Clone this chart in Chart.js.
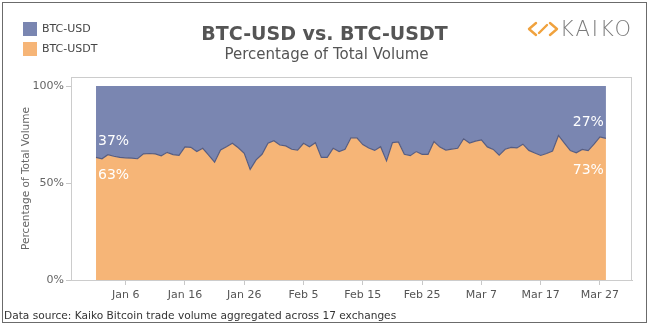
<!DOCTYPE html>
<html>
<head>
<meta charset="utf-8">
<title>BTC-USD vs. BTC-USDT</title>
<script src="https://cdn.jsdelivr.net/npm/chart.js@4.4.0/dist/chart.umd.min.js"></script>
<style>
    html, body { margin: 0; padding: 0; background: #fff; }
    #wrap { position: relative; width: 649px; height: 325px; overflow: hidden; font-family: "DejaVu Sans", sans-serif; }
    #border { position: absolute; left: 2px; top: 2px; width: 643px; height: 319px; border: 1px solid #6b6b6b; }
    #chart { position: absolute; left: 0; top: 0; }
    .legend-item { position: absolute; left: 23px; height: 14px; font-size: 11px; line-height: 14px; color: #444; }
    .legend-item span { display: inline-block; width: 14px; height: 14px; vertical-align: top; margin-right: 5px; }
    #title { position: absolute; left: 0; width: 649px; top: 24px; text-align: center; font-size: 19px; line-height: 19px; font-weight: bold; color: #555; }
    #subtitle { position: absolute; left: 0; width: 653px; top: 47px; text-align: center; font-size: 15px; line-height: 15px; color: #555; }
    #logo { position: absolute; left: 527px; top: 19px; height: 20px; }
    #logo svg { position: absolute; left: 0; top: 2px; }
    #logo b { position: absolute; left: 33px; top: 0; font-size: 21px; line-height: 21px; font-weight: 200; letter-spacing: 2px; color: #7a7a7a; }
    #source { position: absolute; left: 4px; top: 309px; font-size: 10.6px; line-height: 12px; color: #333; white-space: nowrap; }
</style>
</head>
<body>
<div id="wrap">
    <div id="border"></div>
    <canvas id="chart" width="649" height="325"></canvas>
    <div id="legend"></div>
    <div id="title">BTC-USD vs. BTC-USDT</div>
    <div id="subtitle">Percentage of Total Volume</div>
    <div id="logo">
        <svg width="32" height="16" viewBox="0 0 32 16">
            <g fill="none" stroke="#f0a23e" stroke-width="2.4" stroke-linecap="round" stroke-linejoin="round">
                <path d="M9 2 L2 8 L9 14"/>
                <path d="M23 2 L30 8 L23 14"/>
                <path d="M12 12 L20 4"/>
            </g>
        </svg>
        <b>KAIKO</b>
    </div>
    <div id="source">Data source: Kaiko Bitcoin trade volume aggregated across 17 exchanges</div>
</div>
<script>
// daily share of volume, Jan 1 - Mar 28 (one value per day)
const usdtShare = [
    63.2, 62.5, 64.6, 63.8, 63.2, 63.0, 62.8, 62.5, 65.0, 65.2,
    65.0, 64.0, 65.8, 64.6, 64.3, 68.6, 68.4, 66.2, 67.9, 64.4,
    60.7, 67.0, 68.7, 70.5, 68.2, 65.3, 57.0, 61.9, 64.8, 70.5,
    71.8, 69.6, 69.1, 67.4, 67.0, 70.5, 68.7, 70.8, 63.2, 63.2,
    67.9, 66.2, 67.4, 73.3, 73.3, 69.8, 68.0, 66.8, 68.7, 61.4,
    70.8, 71.2, 64.8, 64.1, 66.2, 64.8, 64.8, 71.4, 68.5, 67.0,
    67.5, 67.9, 72.8, 70.6, 71.6, 72.2, 68.6, 67.3, 64.4, 67.4,
    68.4, 68.1, 70.0, 66.8, 65.5, 64.2, 65.2, 66.5, 74.5, 70.5,
    66.7, 65.6, 67.3, 66.7, 70.0, 73.8, 73.0
];
const usdShare = [
    36.8, 37.5, 35.4, 36.2, 36.8, 37.0, 37.2, 37.5, 35.0, 34.8,
    35.0, 36.0, 34.2, 35.4, 35.7, 31.4, 31.6, 33.8, 32.1, 35.6,
    39.3, 33.0, 31.3, 29.5, 31.8, 34.7, 43.0, 38.1, 35.2, 29.5,
    28.2, 30.4, 30.9, 32.6, 33.0, 29.5, 31.3, 29.2, 36.8, 36.8,
    32.1, 33.8, 32.6, 26.7, 26.7, 30.2, 32.0, 33.2, 31.3, 38.6,
    29.2, 28.8, 35.2, 35.9, 33.8, 35.2, 35.2, 28.6, 31.5, 33.0,
    32.5, 32.1, 27.2, 29.4, 28.4, 27.8, 31.4, 32.7, 35.6, 32.6,
    31.6, 31.9, 30.0, 33.2, 34.5, 35.8, 34.8, 33.5, 25.5, 29.5,
    33.3, 34.4, 32.7, 33.3, 30.0, 26.2, 27.0
];
const tickDays = [5, 15, 25, 35, 45, 55, 65, 75, 85];
const tickLabels = ['Jan 6', 'Jan 16', 'Jan 26', 'Feb 5', 'Feb 15', 'Feb 25', 'Mar 7', 'Mar 17', 'Mar 27'];
const yTicks = [0, 50, 100];
const seriesNames = ['BTC-USD', 'BTC-USDT'];
const seriesColors = ['#7a86b1', '#f6b577'];

// legend (top left, stacked vertically)
const legend = document.getElementById('legend');
seriesNames.forEach((name, i) => {
    const item = document.createElement('div');
    item.className = 'legend-item';
    item.style.top = (22 + i * 20) + 'px';
    item.innerHTML = '<span style="background:' + seriesColors[i] + '"></span>' + name;
    legend.appendChild(item);
});

const font = 'DejaVu Sans';

// light frame round the plot area
const plotFrame = {
    id: 'plotFrame',
    beforeDatasetsDraw(chart) {
        const { ctx, chartArea: a } = chart;
        ctx.save();
        ctx.strokeStyle = '#cccccc';
        ctx.lineWidth = 1;
        ctx.strokeRect(a.left + 0.5, a.top + 0.5, a.right - a.left - 1, a.bottom - a.top);
        ctx.restore();
    }
};

// percentage labels at both ends of the series
const endLabels = {
    id: 'endLabels',
    afterDatasetsDraw(chart) {
        const { ctx, scales: { x, y } } = chart;
        const last = usdtShare.length - 1;
        const x0 = x.getPixelForValue(0);
        const x1 = x.getPixelForValue(last);
        const y0 = y.getPixelForValue(usdtShare[0]);
        const y1 = y.getPixelForValue(usdtShare[last]);
        ctx.save();
        ctx.fillStyle = '#ffffff';
        ctx.font = '14px "' + font + '"';
        ctx.textBaseline = 'middle';
        ctx.textAlign = 'left';
        ctx.fillText(Math.round(usdShare[0]) + '%', x0 + 2, y0 - 16);
        ctx.fillText(Math.round(usdtShare[0]) + '%', x0 + 2, y0 + 18);
        ctx.textAlign = 'right';
        ctx.fillText(Math.round(usdShare[last]) + '%', x1 - 2, y1 - 16);
        ctx.fillText(Math.round(usdtShare[last]) + '%', x1 - 2, y1 + 32);
        ctx.restore();
    }
};

new Chart(document.getElementById('chart').getContext('2d'), {
    type: 'line',
    data: {
        datasets: [{
            label: seriesNames[1],
            data: usdtShare.map((v, i) => ({ x: i, y: v })),
            backgroundColor: seriesColors[1],
            borderColor: '#565d82',
            borderWidth: 1.2,
            fill: 'origin'
        }, {
            label: seriesNames[0],
            data: usdShare.map((v, i) => ({ x: i, y: v })),
            backgroundColor: seriesColors[0],
            borderColor: 'rgba(0,0,0,0)',
            borderWidth: 1,
            fill: '-1'
        }]
    },
    options: {
        responsive: false,
        animation: false,
        layout: { padding: { left: 0, right: 17, top: 77, bottom: 23 } },
        elements: { point: { radius: 0 }, line: { tension: 0 } },
        plugins: { legend: { display: false }, tooltip: { enabled: false } },
        scales: {
            x: {
                type: 'linear',
                min: -4.22,
                max: 90.4,
                afterBuildTicks: s => { s.ticks = tickDays.map(v => ({ value: v })); },
                afterFit: s => { s.height = 22; },
                grid: { drawOnChartArea: false, drawTicks: true, tickLength: 5, color: '#c8c8c8' },
                border: { display: true, color: '#c8c8c8' },
                ticks: {
                    autoSkip: false,
                    maxRotation: 0,
                    padding: 4,
                    color: '#555',
                    font: { family: font, size: 11 },
                    callback: (v, i) => tickLabels[i]
                }
            },
            y: {
                stacked: true,
                min: 0,
                max: 104.64,
                afterBuildTicks: s => { s.ticks = yTicks.map(v => ({ value: v })); },
                afterFit: s => { s.width = 71; },
                grid: { drawOnChartArea: false, drawTicks: true, tickLength: 5, color: '#c8c8c8' },
                border: { display: true, color: '#c8c8c8' },
                ticks: {
                    padding: 2,
                    color: '#666',
                    font: { family: font, size: 11 },
                    callback: v => v + '%'
                },
                title: {
                    display: true,
                    text: 'Percentage of Total Volume',
                    color: '#666',
                    font: { family: font, size: 10.5 },
                    padding: { top: 20, bottom: 0 }
                }
            }
        }
    },
    plugins: [plotFrame, endLabels]
});
</script>
</body>
</html>
